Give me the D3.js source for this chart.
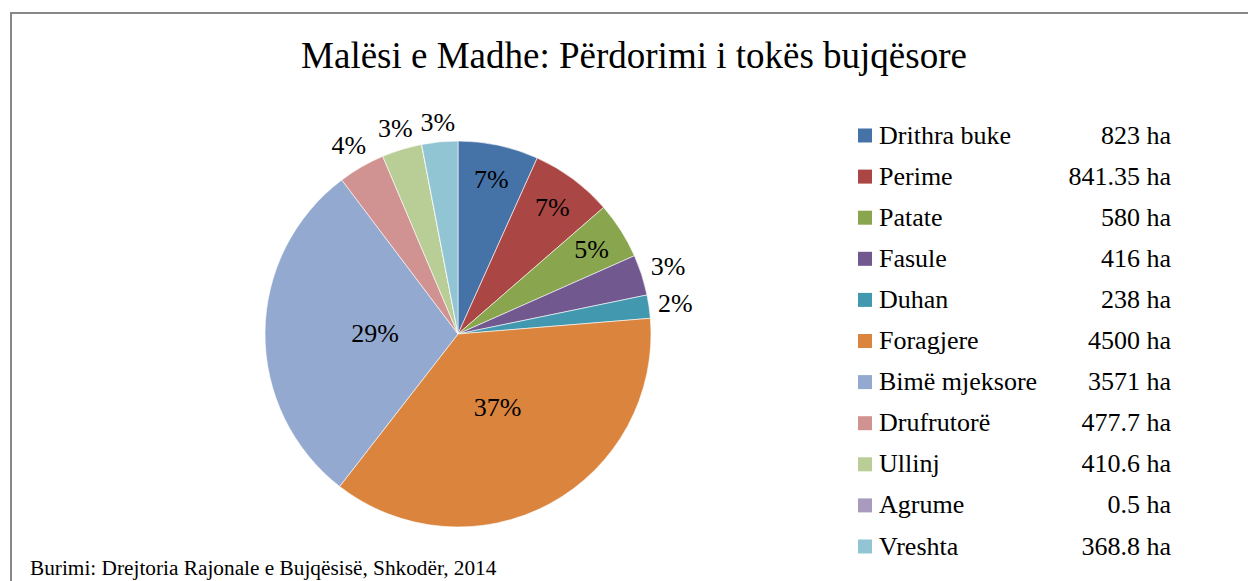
<!DOCTYPE html>
<meta charset="utf-8">
<body style="margin:0">
<svg width="1248" height="581" font-family="Liberation Serif, serif"></svg>
<script src="https://cdn.jsdelivr.net/npm/d3@7"></script>
<script>

 var categories = ["Drithra buke", "Perime", "Patate", "Fasule", "Duhan", "Foragjere",
                   "Bimë mjeksore", "Drufrutorë", "Ullinj", "Agrume", "Vreshta"];
 var hectares = [823, 841.35, 580, 416, 238, 4500, 3571, 477.7, 410.6, 0.5, 368.8];
 var valueLabels = ["823 ha", "841.35 ha", "580 ha", "416 ha", "238 ha", "4500 ha",
                    "3571 ha", "477.7 ha", "410.6 ha", "0.5 ha", "368.8 ha"];
 var colors = ["#4572a7", "#aa4643", "#89a54e", "#71588f", "#4198af", "#db843d",
               "#93a9cf", "#d19392", "#b9cd96", "#a99bbd", "#92c5d4"];

 var svg = d3.select("svg");

 // frame of the original chart area (runs off the right and bottom)
 svg.append("path")
    .attr("d", "M11,1300 L11,13 L1300,13")
    .style("fill", "none")
    .style("stroke", "#878787")
    .style("stroke-width", 2);

 svg.append("text")
    .attr("x", 634)
    .attr("y", 68)
    .attr("text-anchor", "middle")
    .attr("font-size", 37)
    .text("Malësi e Madhe: Përdorimi i tokës bujqësore");

 var data = categories.map(function(c, i) {
     return {name: c, value: hectares[i], label: valueLabels[i], color: colors[i]};
 });
 var total = d3.sum(hectares);

 var cx = 458, cy = 334, r = 193;

 var pie = d3.pie()
     .sort(null)
     .value(function(d) { return d.value; });

 var arc = d3.arc().innerRadius(0).outerRadius(r);

 var g = svg.append("g")
     .attr("transform", "translate(" + cx + "," + cy + ")");

 var arcs = pie(data);

 g.selectAll("path.slice")
  .data(arcs)
  .enter().append("path")
  .attr("class", "slice")
  .attr("d", arc)
  .style("fill", function(d) { return d.data.color; })
  .style("stroke", "#fff")
  .style("stroke-width", 0.6);

 // labels: big slices in the middle, medium near the rim, small ones outside
 var labels = g.selectAll("text.pct")
  .data(arcs.filter(function(d) { return d.value / total >= 0.005; }))
  .enter().append("text")
  .attr("class", "pct")
  .attr("text-anchor", "middle")
  .attr("dy", "0.34em")
  .attr("font-size", 26)
  .text(function(d) { return Math.round(d.value / total * 100) + "%"; });

 labels.attr("transform", function(d) {
     var share = d.value / total;
     var a = (d.startAngle + d.endAngle) / 2;
     var s = Math.sin(a), c = Math.cos(a), rr;
     if (share > 0.2) rr = r * 0.43;
     else if (share > 0.04) rr = r * 0.82;
     else {
         var w = this.getComputedTextLength() / 2;
         rr = r + 8 + Math.abs(s) * w + Math.abs(c) * 10;
     }
     return "translate(" + (s * rr) + "," + (-c * rr) + ")";
 });

 var y = d3.scalePoint()
     .domain(categories)
     .range([135, 546]);

 var row = svg.append("g").selectAll("g")
     .data(data)
     .enter().append("g")
     .attr("transform", function(d) { return "translate(0," + y(d.name) + ")"; });

 row.append("rect")
    .attr("x", 858)
    .attr("y", -6.5)
    .attr("width", 14)
    .attr("height", 14)
    .style("fill", function(d) { return d.color; });

 row.append("text")
    .attr("x", 879)
    .attr("y", 8.5)
    .attr("font-size", 26)
    .text(function(d) { return d.name; });

 row.append("text")
    .attr("x", 1171)
    .attr("y", 8.5)
    .attr("text-anchor", "end")
    .attr("font-size", 26)
    .text(function(d) { return d.label; });

 svg.append("text")
    .attr("x", 30)
    .attr("y", 575)
    .attr("font-size", 21.3)
    .text("Burimi: Drejtoria Rajonale e Bujqësisë, Shkodër, 2014");

</script>
</body>
